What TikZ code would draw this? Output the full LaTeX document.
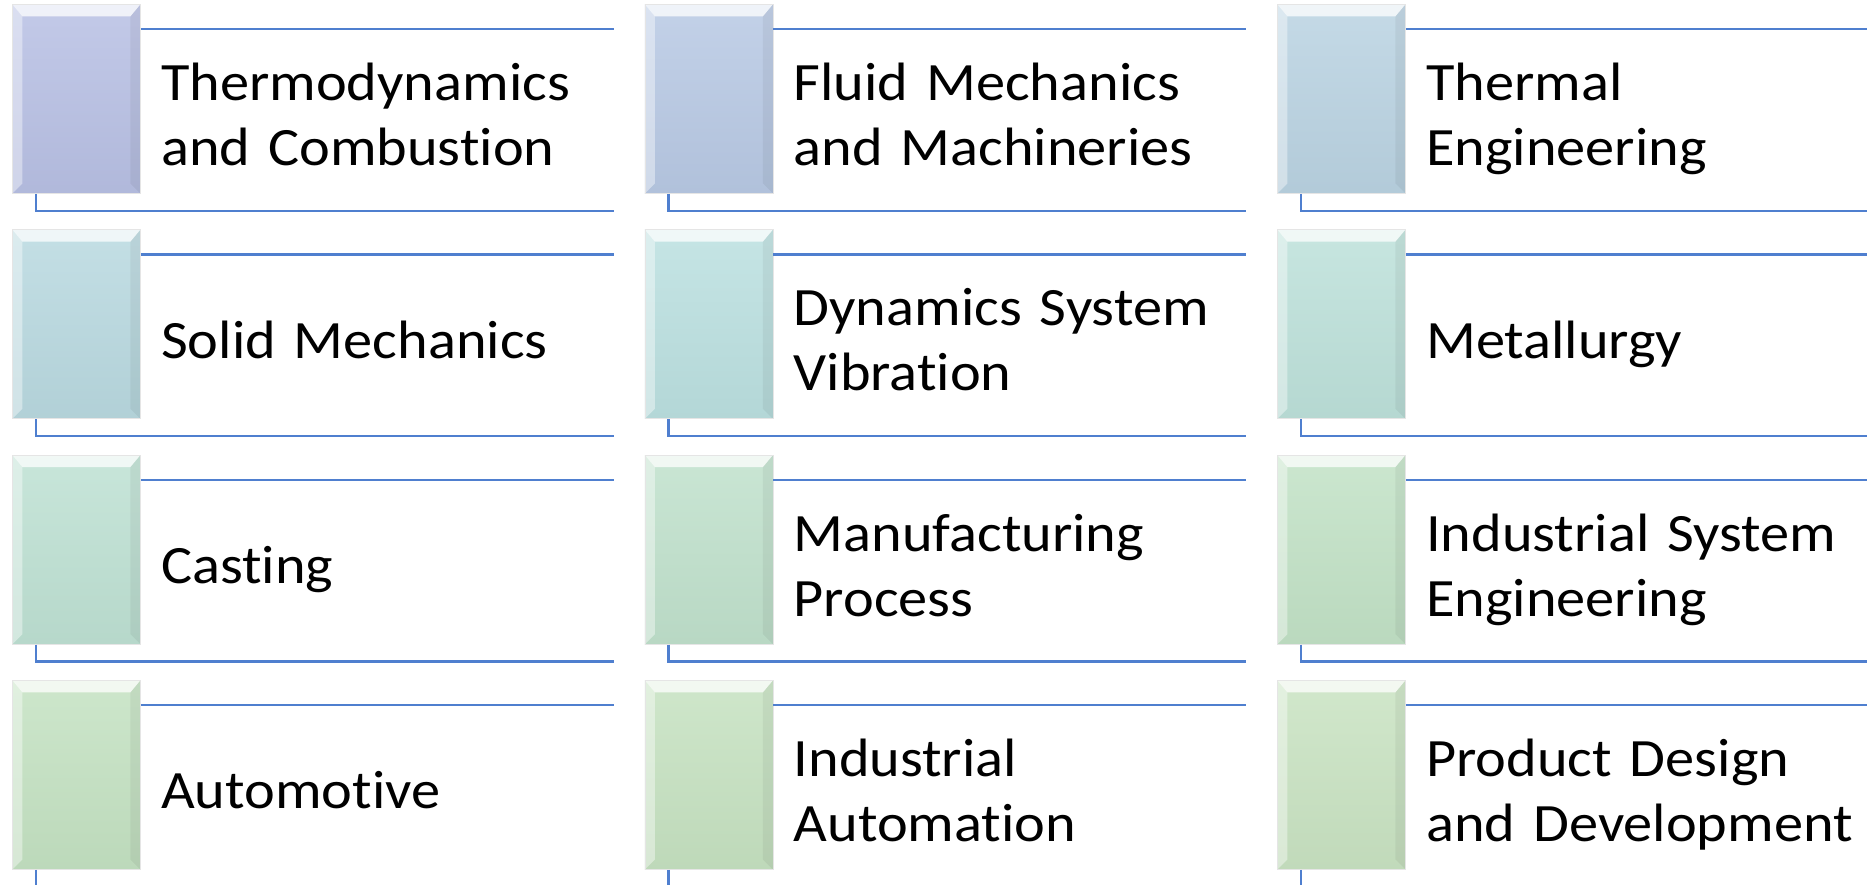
\documentclass[tikz,border=0pt]{standalone}
\usepackage{fontspec}
\setmainfont{Carlito}[FakeStretch=1.08, Ligatures=NoCommon, WordSpace=0.75]
\usetikzlibrary{positioning}

\definecolor{rule}{HTML}{4F7FCF}
\definecolor{acc1}{HTML}{B8C0E4}
\definecolor{acc2}{HTML}{B8C9E4}
\definecolor{acc3}{HTML}{BAD3E2}
\definecolor{acc4}{HTML}{B9D9E0}
\definecolor{acc5}{HTML}{BBE0E0}
\definecolor{acc6}{HTML}{BDE1DA}
\definecolor{acc7}{HTML}{BEE1D3}
\definecolor{acc8}{HTML}{C0E1CC}
\definecolor{acc9}{HTML}{C2E2C6}
\definecolor{acc10}{HTML}{C4E2C2}
\definecolor{acc11}{HTML}{C6E2C1}
\definecolor{acc12}{HTML}{C9E3C2}

\begin{document}
\begin{tikzpicture}[
            x = 0.5pt, y = -0.5pt, % one unit = one pixel, y downwards
            node distance = 0pt,
            font = \fontsize{27}{32.5}\selectfont
        ]

        \tikzstyle{accent}=[
            rectangle,
            anchor = north west,
            minimum width = 64pt,
            minimum height = 94.5pt,
            inner sep = 0pt,
            draw = black!10,
            line width = 0.4pt,
            path picture = {
                \fill[white, opacity = 0.75] (path picture bounding box.north west)
                    -- (path picture bounding box.north east) -- ++(-5pt,-6pt)
                    -- ([shift={(5pt,-6pt)}]path picture bounding box.north west) -- cycle;
                \fill[white, opacity = 0.4] (path picture bounding box.north west)
                    -- ([shift={(5pt,-6pt)}]path picture bounding box.north west)
                    -- ([shift={(5pt,5pt)}]path picture bounding box.south west)
                    -- (path picture bounding box.south west) -- cycle;
                \fill[black, opacity = 0.05] (path picture bounding box.north east)
                    -- (path picture bounding box.south east) -- ++(-5pt,5pt)
                    -- ([shift={(-5pt,-6pt)}]path picture bounding box.north east) -- cycle;
            }
        ]
        \tikzset{tint/.style = {top color = #1!85!white, bottom color = #1!96!black}}

        \tikzstyle{topic}=[
            rectangle,
            anchor = north west,
            minimum width = 236pt,
            minimum height = 90.5pt,
            text width = 216pt,
            inner xsep = 10pt,
            align = left,
            execute at begin node = \strut,
            execute at end node = \strut
        ]

        \tikzstyle{rule line}=[draw = rule, line width = 1.2pt]

	\useasboundingbox (0,0) rectangle (1867,884);
	\clip (0,0) rectangle (1867,884);

	\node[accent, tint=acc1] (a1) at (12,4) {};
	\node[accent, tint=acc2] (b1) at (644.5,4) {};
	\node[accent, tint=acc3] (c1) at (1277,4) {};
	\node[accent, tint=acc4] (a2) at (12,229.3) {};
	\node[accent, tint=acc5] (b2) at (644.5,229.3) {};
	\node[accent, tint=acc6] (c2) at (1277,229.3) {};
	\node[accent, tint=acc7] (a3) at (12,454.7) {};
	\node[accent, tint=acc8] (b3) at (644.5,454.7) {};
	\node[accent, tint=acc9] (c3) at (1277,454.7) {};
	\node[accent, tint=acc10] (a4) at (12,680) {};
	\node[accent, tint=acc11] (b4) at (644.5,680) {};
	\node[accent, tint=acc12] (c4) at (1277,680) {};

	\node[topic, below right=12.5pt and 0pt of a1.north east] (ta1) {Thermodynamics\\and Combustion};
	\node[topic, below right=12.5pt and 0pt of b1.north east] (tb1) {Fluid Mechanics\\and Machineries};
	\node[topic, below right=12.5pt and 0pt of c1.north east] (tc1) {Thermal\\Engineering};
	\node[topic, below right=12.5pt and 0pt of a2.north east] (ta2) {Solid Mechanics};
	\node[topic, below right=12.5pt and 0pt of b2.north east] (tb2) {Dynamics System\\Vibration};
	\node[topic, below right=12.5pt and 0pt of c2.north east] (tc2) {Metallurgy};
	\node[topic, below right=12.5pt and 0pt of a3.north east] (ta3) {Casting};
	\node[topic, below right=12.5pt and 0pt of b3.north east] (tb3) {Manufacturing\\Process};
	\node[topic, below right=12.5pt and 0pt of c3.north east] (tc3) {Industrial System\\Engineering};
	\node[topic, below right=12.5pt and 0pt of a4.north east] (ta4) {Automotive};
	\node[topic, below right=12.5pt and 0pt of b4.north east] (tb4) {Industrial\\Automation};
	\node[topic, below right=12.5pt and 0pt of c4.north east] (tc4) {Product Design\\and Development};

	\draw[rule line] (ta1.north west) -- (ta1.north east) ([xshift=12pt]a1.south west) |- (ta1.south east);
	\draw[rule line] (tb1.north west) -- (tb1.north east) ([xshift=12pt]b1.south west) |- (tb1.south east);
	\draw[rule line] (tc1.north west) -- (tc1.north east) ([xshift=12pt]c1.south west) |- (tc1.south east);
	\draw[rule line] (ta2.north west) -- (ta2.north east) ([xshift=12pt]a2.south west) |- (ta2.south east);
	\draw[rule line] (tb2.north west) -- (tb2.north east) ([xshift=12pt]b2.south west) |- (tb2.south east);
	\draw[rule line] (tc2.north west) -- (tc2.north east) ([xshift=12pt]c2.south west) |- (tc2.south east);
	\draw[rule line] (ta3.north west) -- (ta3.north east) ([xshift=12pt]a3.south west) |- (ta3.south east);
	\draw[rule line] (tb3.north west) -- (tb3.north east) ([xshift=12pt]b3.south west) |- (tb3.south east);
	\draw[rule line] (tc3.north west) -- (tc3.north east) ([xshift=12pt]c3.south west) |- (tc3.south east);
	\draw[rule line] (ta4.north west) -- (ta4.north east) ([xshift=12pt]a4.south west) |- (ta4.south east);
	\draw[rule line] (tb4.north west) -- (tb4.north east) ([xshift=12pt]b4.south west) |- (tb4.south east);
	\draw[rule line] (tc4.north west) -- (tc4.north east) ([xshift=12pt]c4.south west) |- (tc4.south east);

    \end{tikzpicture}
\end{document}
